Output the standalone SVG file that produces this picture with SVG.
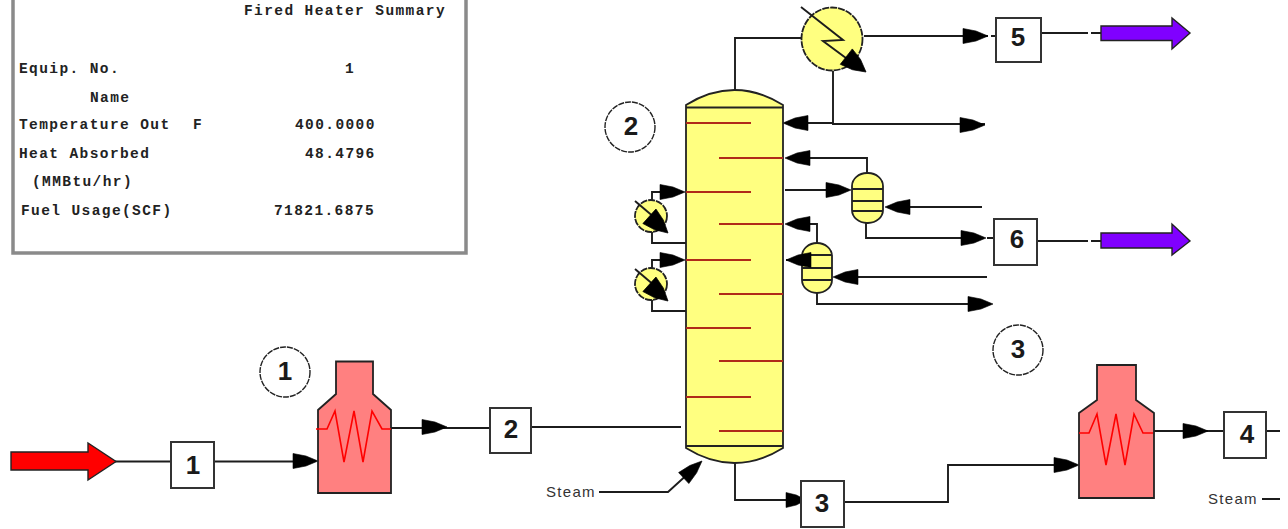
<svg xmlns="http://www.w3.org/2000/svg" width="1288" height="529" viewBox="0 0 1288 529">
<style>
.ln{fill:none;stroke:#1c1c1c;stroke-width:1.9}
.eq{stroke:#222;stroke-width:1.8}
.yl{fill:#ffff80}
.ht{fill:#ff8080}
.coil{fill:none;stroke:#ff0000;stroke-width:1.6}
.tray{stroke:#b02a1a;stroke-width:1.9}
.dash{stroke-dasharray:7 1}
.box{fill:#fff;stroke:#333;stroke-width:2}
.bub{fill:#fff;stroke:#222;stroke-width:1.4;stroke-dasharray:6 1}
.num{font-family:"Liberation Sans",Arial,sans-serif;font-size:26px;font-weight:bold;fill:#1a1a1a;text-anchor:middle}
.st{font-family:"Liberation Sans",Arial,sans-serif;font-size:15px;fill:#333;letter-spacing:1.3px}
.tb{font-family:"Liberation Mono","Courier New",monospace;font-size:14.5px;font-weight:bold;fill:#222;letter-spacing:1.4px}
</style>
<defs>
<path id="ah" d="M-25,-7.500 L-12,-5 L0,0 L-12,5 L-25,7.500Z" fill="#000" stroke="#000" stroke-width=".6"/>
</defs>
<rect width="1288" height="529" fill="#fff"/>
<g id="summary-table">
<rect x="13" y="-6" width="453" height="259" fill="#fff" stroke="#8a8a8a" stroke-width="3.5"/>
<text class="tb" x="244" y="15">Fired Heater Summary</text>
<text class="tb" x="19" y="73">Equip. No.</text>
<text class="tb" x="345" y="73">1</text>
<text class="tb" x="90" y="102">Name</text>
<text class="tb" x="19" y="129">Temperature Out</text>
<text class="tb" x="193" y="129">F</text>
<text class="tb" x="295" y="129">400.0000</text>
<text class="tb" x="305" y="158">48.4796</text>
<text class="tb" x="19" y="158">Heat Absorbed</text>
<text class="tb" x="32" y="186">(MMBtu/hr)</text>
<text class="tb" x="21" y="215">Fuel Usage(SCF)</text>
<text class="tb" x="274" y="215">71821.6875</text>
</g>
<g id="connectors">
<path class="ln" d="M115,461.500H171M214,461.500H296"/>
<path class="ln" d="M391,428H490M531,427H681"/>
<path class="ln" d="M735,90V38H801M864,36H988M991,36H996"/>
<path class="ln" d="M833,71V124H985M833,123H805"/>
<path class="ln" d="M867,174V158H805M785,190H835M905,207H982M866,223V238H965M987,238H994"/>
<path class="ln" d="M817,243V224H805M805,260H786M855,277H987M817,293V304H975"/>
<path class="ln" d="M652,200V192H670M652,232V243H686M652,268V260H670M652,300V311H686"/>
<path class="ln" d="M1041,33H1088M1091,33H1101M1037,241H1088M1091,241H1101"/>
<path class="ln" d="M599,492H668L690,472"/>
<path class="ln" d="M735,463V500H790M844,502H948V465H1060M1154,431H1224M1266,431H1280M1262,499H1280"/>
<use href="#ah" transform="translate(318,461)"/>
<use href="#ah" transform="translate(447,427)"/>
<use href="#ah" transform="translate(988,36)"/>
<use href="#ah" transform="translate(985,125)"/>
<use href="#ah" transform="translate(783,123) rotate(180)"/>
<use href="#ah" transform="translate(785,158) rotate(180)"/>
<use href="#ah" transform="translate(851,190)"/>
<use href="#ah" transform="translate(885,207) rotate(180)"/>
<use href="#ah" transform="translate(986,238)"/>
<use href="#ah" transform="translate(785,224) rotate(180)"/>
<use href="#ah" transform="translate(833,277) rotate(180)"/>
<use href="#ah" transform="translate(993,304)"/>
<use href="#ah" transform="translate(685,192)"/>
<use href="#ah" transform="translate(685,260)"/>
<use href="#ah" transform="translate(702,461) rotate(-43)"/>
<use href="#ah" transform="translate(806,500) scale(.8,1)"/>
<use href="#ah" transform="translate(1079,465)"/>
<use href="#ah" transform="translate(1208,431)"/>
</g>
<g id="feed-arrow">
<path d="M11,452H88V443L116,461.500L88,480V470H11Z" fill="#ff0000" stroke="#222" stroke-width="1.4"/>
</g>
<g id="product-arrow-5">
<path d="M1101,26H1172V18L1190,33L1172,49V40.500H1101Z" fill="#8000ff" stroke="#222" stroke-width="1.4"/>
</g>
<g id="product-arrow-6">
<path d="M1101,233H1172V224L1190,241L1172,255V248H1101Z" fill="#8000ff" stroke="#222" stroke-width="1.4"/>
</g>
<g id="stream-1"><rect class="box" x="171" y="442" width="43" height="46"/><text class="num" x="193" y="474">1</text></g>
<g id="stream-2"><rect class="box" x="490" y="408" width="41" height="45"/><text class="num" x="511" y="438">2</text></g>
<g id="stream-3"><rect class="box" x="801" y="481" width="43" height="46"/><text class="num" x="822" y="512">3</text></g>
<g id="stream-4"><rect class="box" x="1224" y="412" width="42" height="46"/><text class="num" x="1247" y="443">4</text></g>
<g id="stream-5"><rect class="box" x="996" y="18" width="45" height="44"/><text class="num" x="1018" y="46">5</text></g>
<g id="stream-6"><rect class="box" x="994" y="219" width="43" height="46"/><text class="num" x="1017" y="248">6</text></g>
<g id="bubble-1"><circle class="bub" cx="285" cy="372" r="25"/><text class="num" x="285" y="380">1</text></g>
<g id="bubble-2"><circle class="bub" cx="630" cy="127" r="25"/><text class="num" x="631" y="135">2</text></g>
<g id="bubble-3"><circle class="bub" cx="1018" cy="350" r="25"/><text class="num" x="1018" y="358">3</text></g>
<g id="heater-1">
<path class="ht eq" d="M336,361.500H373V394L391,410V493H318V410L336,394Z"/>
<path class="coil" d="M316,429H327L335,411L344,462L354,411L363,462L372,411L382,429H391"/>
</g>
<g id="heater-2">
<path class="ht eq" d="M1097,365H1136V400L1154,413V498H1079V413L1097,400Z"/>
<path class="coil" d="M1079,433H1089L1097,414L1106,465L1116,414L1125,465L1134,414L1143,433H1153"/>
</g>
<g id="column">
<path class="yl eq" d="M686,448V105Q710,90 734.500,90Q759,90 783,105V448Q759,463 734.500,463Q710,463 686,448Z"/>
<path class="eq" d="M686,107.500H783M686,446H783"/>
<path class="tray" d="M686,123H751M719,158H783M686,192H751M719,224H783M686,260H751M719,294H783M686,328H751M719,361H783M686,397H751M719,431H783"/>
</g>
<g id="condenser">
<ellipse class="yl eq dash" cx="832" cy="39" rx="30.500" ry="31.500"/>
<path class="ln" d="M801,7L843,40L823,41L850,61"/>
<use href="#ah" transform="translate(866,72) rotate(38) scale(1,1.3)"/>
</g>
<g id="side-exchanger-1">
<ellipse class="yl eq dash" cx="651" cy="216" rx="16" ry="16"/>
<path class="ln" d="M635,201L655,218"/>
<use href="#ah" transform="translate(668,233) rotate(42) scale(1,1.3)"/>
</g>
<g id="side-exchanger-2">
<ellipse class="yl eq dash" cx="651" cy="284" rx="16" ry="16"/>
<path class="ln" d="M635,269L655,286"/>
<use href="#ah" transform="translate(668,301) rotate(42) scale(1,1.3)"/>
</g>
<g id="stripper-1">
<rect class="yl eq" x="852" y="173" width="31" height="50" rx="15" ry="13"/>
<path class="eq" d="M852,189H883M852,201H883M852,211H883"/>
</g>
<g id="stripper-2">
<rect class="yl eq" x="802" y="243" width="30" height="50" rx="15" ry="13"/>
<path class="eq" d="M802,255H832M802,268H832M802,280H832"/>
<use href="#ah" transform="translate(786,260) rotate(180)"/>
</g>
<g id="steam-labels">
<text class="st" x="546" y="497">Steam</text>
<text class="st" x="1208" y="504">Steam</text>
</g>
</svg>
